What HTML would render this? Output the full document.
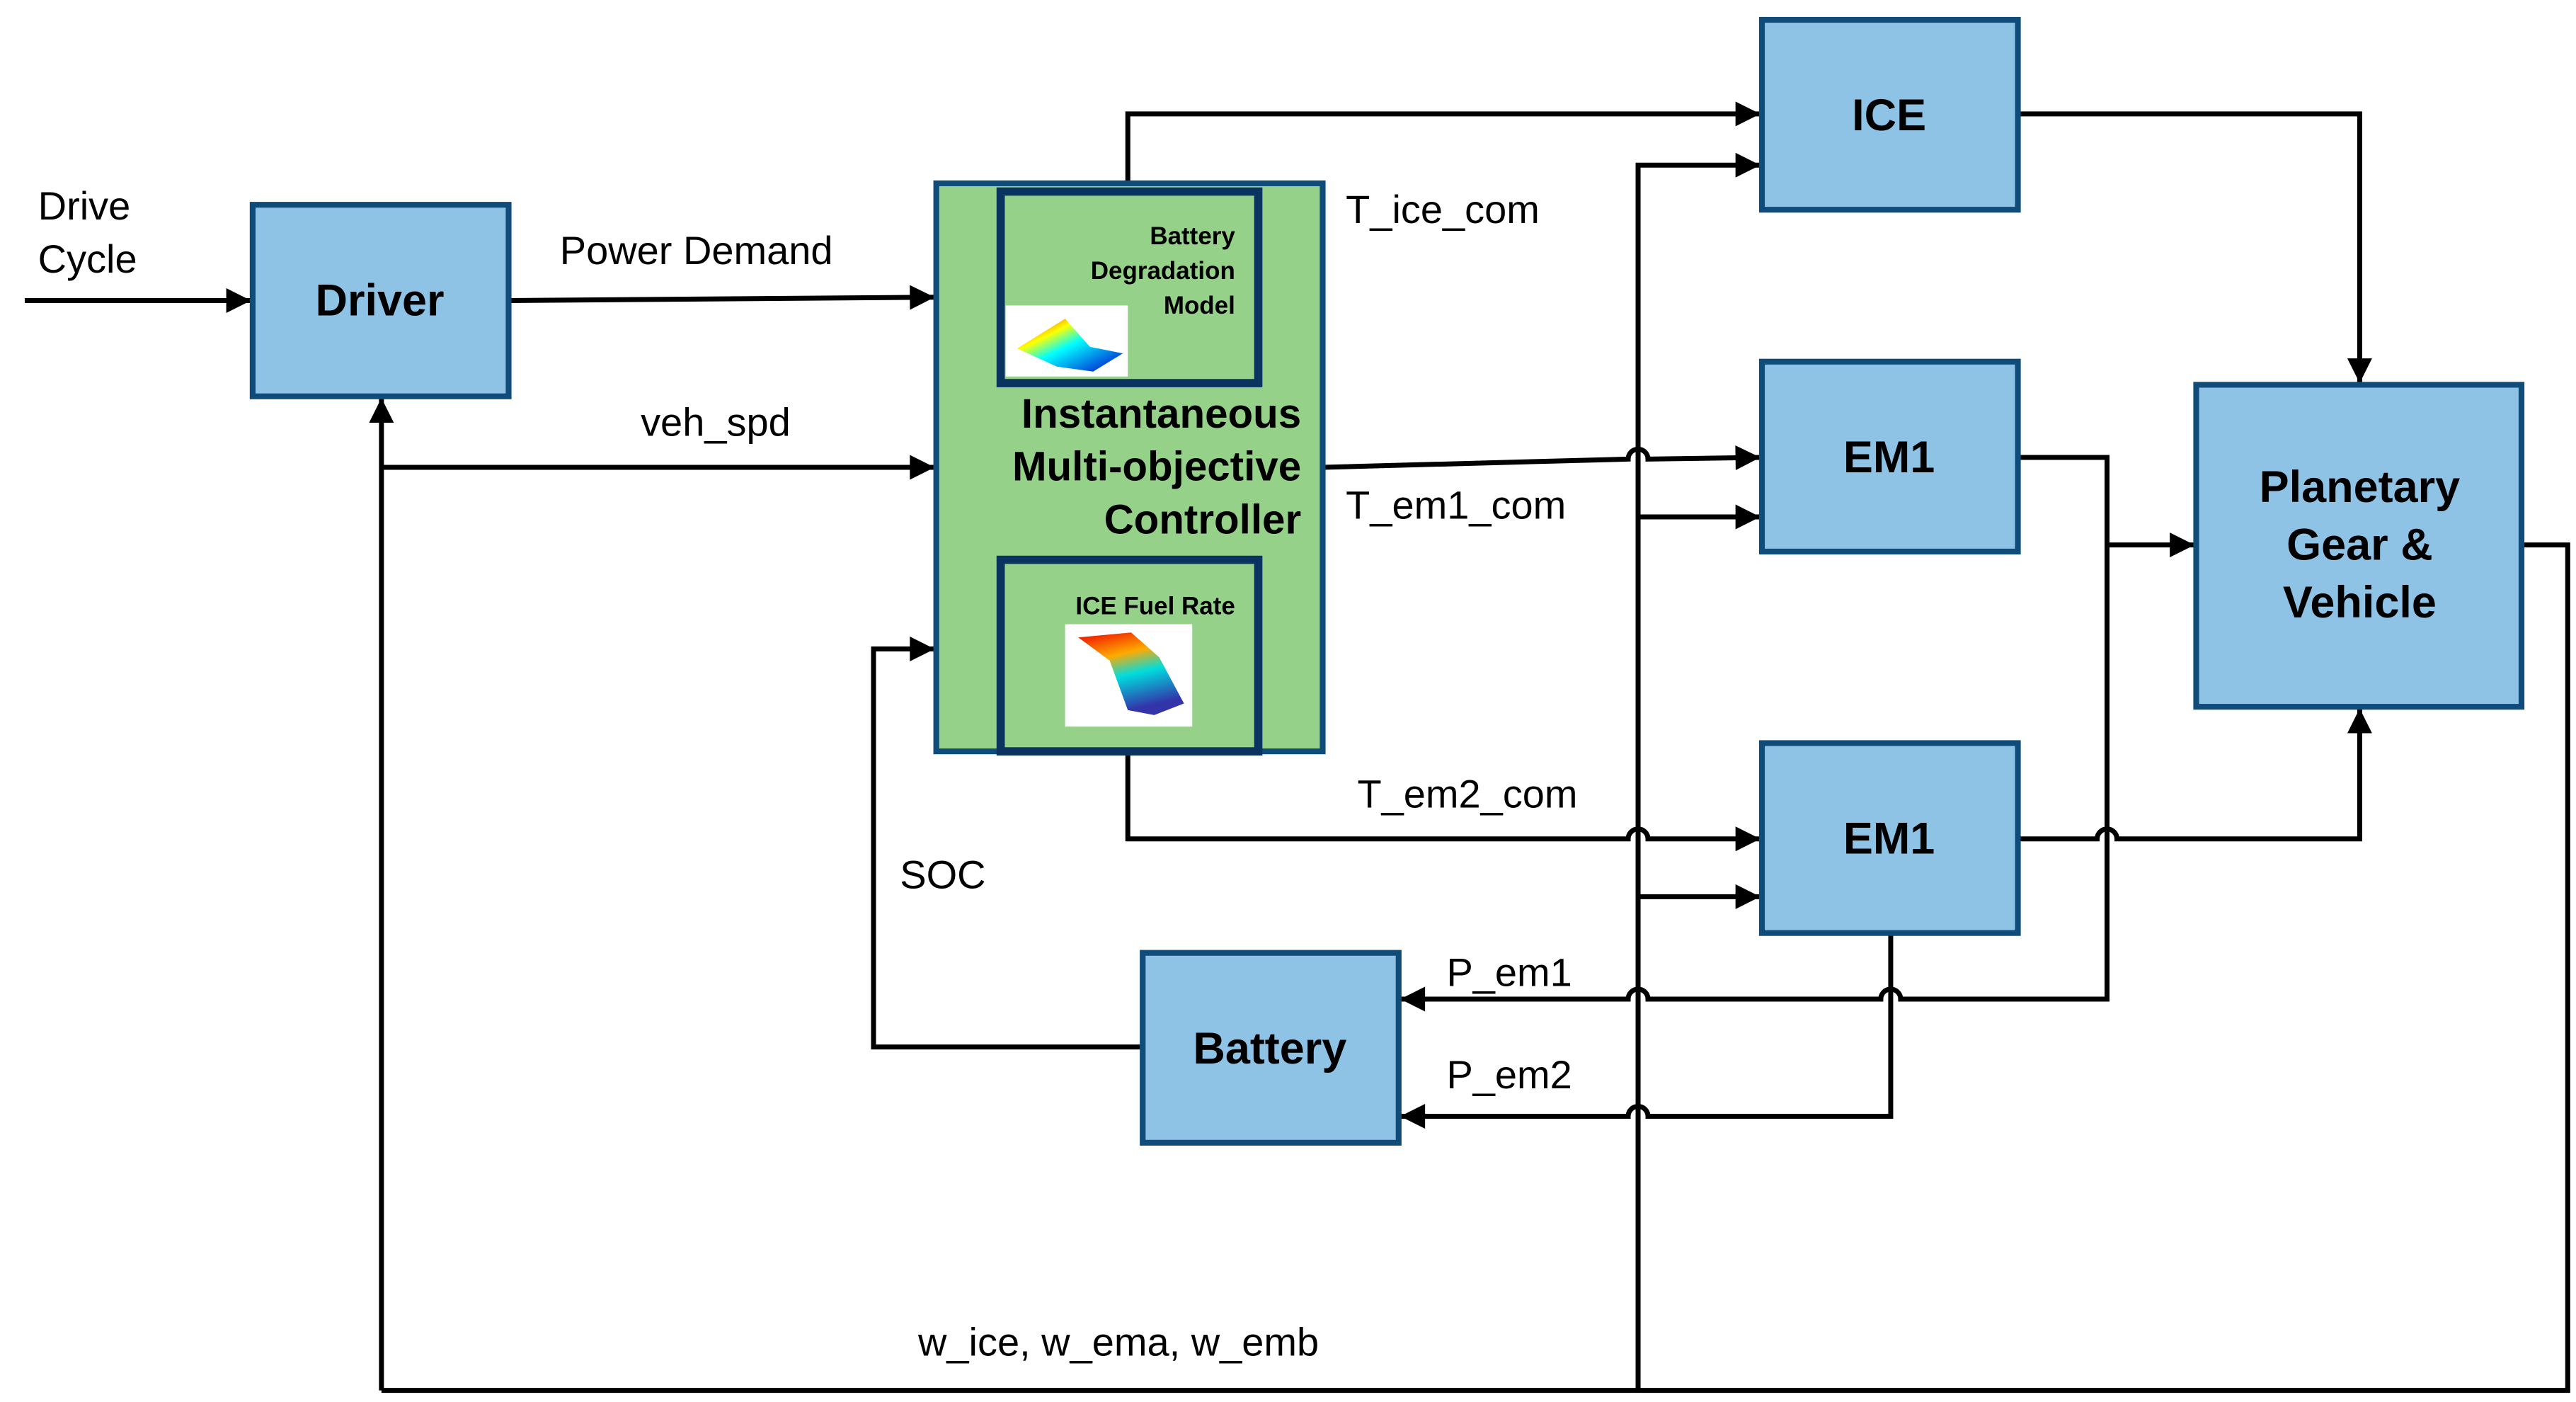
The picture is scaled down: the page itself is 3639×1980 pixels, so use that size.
<!DOCTYPE html>
<html><head><meta charset="utf-8"><style>
html,body{margin:0;padding:0;background:#fff;}
svg{display:block;}
text{font-family:"Liberation Sans",Arial,sans-serif;fill:#000;}
.b{font-weight:bold;}
</style></head><body>
<svg width="3639" height="1980" viewBox="0 0 1560 849" preserveAspectRatio="none" xmlns="http://www.w3.org/2000/svg">
<defs>
<marker id="a" viewBox="0 0 10 10" refX="10" refY="5" markerWidth="5.5" markerHeight="5" markerUnits="strokeWidth" orient="auto"><path d="M0,0 L10,5 L0,10 z" fill="#000"/></marker>
<linearGradient id="g1" x1="0" y1="0" x2="1" y2="1"><stop offset="0" stop-color="#e00"/><stop offset="0.3" stop-color="#ff0"/><stop offset="0.5" stop-color="#0ff"/><stop offset="1" stop-color="#00c"/></linearGradient>
<linearGradient id="g2" x1="0" y1="0" x2="0.3" y2="1"><stop offset="0" stop-color="#e00"/><stop offset="0.35" stop-color="#fa0"/><stop offset="0.6" stop-color="#0dd"/><stop offset="1" stop-color="#33a"/></linearGradient>
</defs>
<g fill="none" stroke="#000" stroke-width="3">
<path d="M15,182 H152" marker-end="url(#a)"/>
<path d="M308,182 L566,180" marker-end="url(#a)"/>
<path d="M231,283 H566" marker-end="url(#a)"/>
<path d="M231,842 V241" marker-end="url(#a)"/>
<path d="M231,842 H1555 V330 H1527"/>
<path d="M992,842 V100 H1066" marker-end="url(#a)"/>
<path d="M992,313 H1066" marker-end="url(#a)"/>
<path d="M992,543 H1066" marker-end="url(#a)"/>
<path d="M683,111 V69 H1066" marker-end="url(#a)"/>
<path d="M801,283 L986,278 A6,6 0 0 1 998,278 L1066,277" marker-end="url(#a)"/>
<path d="M683,455 V508 H986 A6,6 0 0 1 998,508 H1066" marker-end="url(#a)"/>
<path d="M1222,69 H1429 V232" marker-end="url(#a)"/>
<path d="M1222,277 H1276 V605 H1151 A6,6 0 0 0 1139,605 H998 A6,6 0 0 0 986,605 H848" marker-end="url(#a)"/>
<path d="M1276,330 H1329" marker-end="url(#a)"/>
<path d="M1222,508 H1270 A6,6 0 0 1 1282,508 H1429 V429" marker-end="url(#a)"/>
<path d="M1145,565 V676 H998 A6,6 0 0 0 986,676 H848" marker-end="url(#a)"/>
<path d="M692,634 H529 V393 H566" marker-end="url(#a)"/>
</g>
<g stroke="#0F4C7A" stroke-width="3.5" fill="#8EC3E6">
<rect x="153" y="124" width="155" height="116"/>
<rect x="1067" y="12" width="155" height="115"/>
<rect x="1067" y="219" width="155" height="115"/>
<rect x="1067" y="450" width="155" height="115"/>
<rect x="1330" y="233" width="197" height="195"/>
<rect x="692" y="577" width="155" height="115"/>
</g>
<rect x="567" y="111" width="234" height="344" fill="#96D18A" stroke="#0F4C7A" stroke-width="3.5"/>
<rect x="606" y="116" width="156" height="116" fill="#96D18A" stroke="#0A3360" stroke-width="5"/>
<rect x="606" y="339" width="156" height="116" fill="#96D18A" stroke="#0A3360" stroke-width="5"/>
<rect x="609" y="185" width="74" height="43" fill="#fff"/>
<path d="M616,211 L645,193 L660,210 L680,214 L662,225 L640,222 Z" fill="url(#g1)"/>
<rect x="645" y="378" width="77" height="62" fill="#fff"/>
<path d="M653,386 L685,383 L702,398 L717,426 L699,433 L683,430 L672,400 Z" fill="url(#g2)"/>
<text x="230" y="191" class="b" font-size="27" text-anchor="middle">Driver</text>
<text x="1144" y="79" class="b" font-size="27" text-anchor="middle">ICE</text>
<text x="1144" y="286" class="b" font-size="27" text-anchor="middle">EM1</text>
<text x="1144" y="517" class="b" font-size="27" text-anchor="middle">EM1</text>
<text x="769" y="644" class="b" font-size="27" text-anchor="middle">Battery</text>
<text x="1429" y="304" class="b" font-size="27" text-anchor="middle">Planetary</text>
<text x="1429" y="339" class="b" font-size="27" text-anchor="middle">Gear &amp;</text>
<text x="1429" y="374" class="b" font-size="27" text-anchor="middle">Vehicle</text>
<text x="788" y="259" class="b" font-size="25" text-anchor="end">Instantaneous</text>
<text x="788" y="291" class="b" font-size="25" text-anchor="end">Multi-objective</text>
<text x="788" y="323" class="b" font-size="25" text-anchor="end">Controller</text>
<text x="748" y="148" class="b" font-size="15" text-anchor="end">Battery</text>
<text x="748" y="169" class="b" font-size="15" text-anchor="end">Degradation</text>
<text x="748" y="190" class="b" font-size="15" text-anchor="end">Model</text>
<text x="748" y="372" class="b" font-size="15" text-anchor="end">ICE Fuel Rate</text>
<g font-size="24">
<text x="23" y="133">Drive</text>
<text x="23" y="165">Cycle</text>
<text x="339" y="160">Power Demand</text>
<text x="388" y="264">veh_spd</text>
<text x="815" y="135">T_ice_com</text>
<text x="815" y="314">T_em1_com</text>
<text x="822" y="489">T_em2_com</text>
<text x="545" y="538">SOC</text>
<text x="876" y="597">P_em1</text>
<text x="876" y="659">P_em2</text>
<text x="556" y="821">w_ice, w_ema, w_emb</text>
</g>
</svg>
</body></html>
